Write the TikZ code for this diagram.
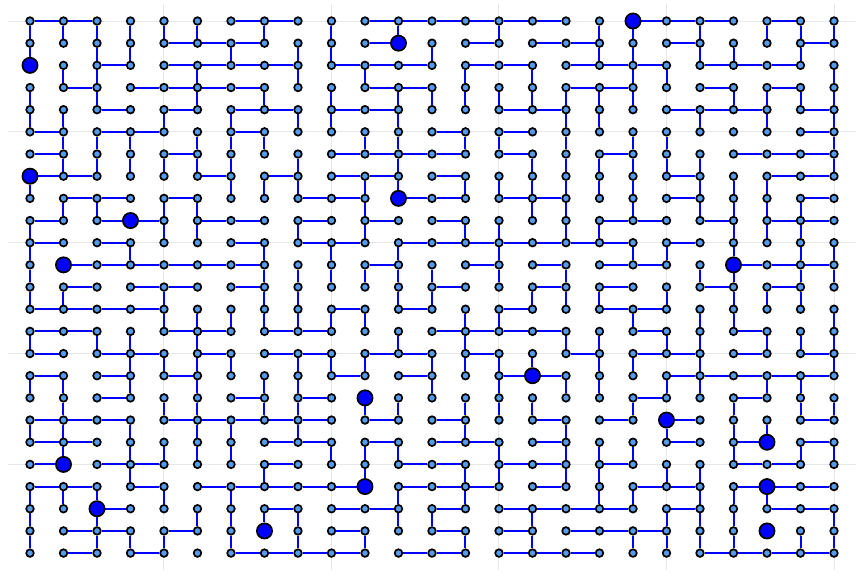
\documentclass[tikz,border=0pt]{standalone}
\usepackage{tikz}
\usepackage{xstring}
\usetikzlibrary{backgrounds}
\definecolor{dotblue}{RGB}{85,155,235}
\definecolor{gridgray}{RGB}{232,232,232}
\tikzset{
    dot/.style = {draw=black, fill=dotblue, circle, line width=0.85pt, inner sep=0pt, minimum size=3.8pt},
    hub/.style = {draw=black, fill=blue, circle, line width=0.85pt, inner sep=0pt, minimum size=7.6pt},
    link/.style = {draw=blue, line width=1pt},
    guide/.style = {draw=gridgray, line width=0.5pt},
}

\begin{document}
\begin{tikzpicture}[x=16.75pt, y=-11.085pt]
\useasboundingbox (-0.8955,-0.9472) rectangle (24.896,25.034);

% the bigger nodes
\foreach \r/\c in {0/18,1/11,2/0,7/0,8/11,9/3,11/1,11/21,16/15,17/10,18/19,19/22,20/1,21/10,21/22,22/2,23/7,23/22}
    {\expandafter\gdef\csname hub-\r-\c\endcsname{}}

% grid of nodes
\foreach \r in {0,...,24}
    \foreach \c in {0,...,24}
        {\ifcsname hub-\r-\c\endcsname
            \node[hub] (n-\r-\c) at (\c,\r) {};
        \else
            \node[dot] (n-\r-\c) at (\c,\r) {};
        \fi}

\begin{pgfonlayer}{background}
% guide lines
\foreach \c in {4,9,14,19,24}
    \draw[guide] (\c,-0.77) -- (\c,24.76);
\foreach \r in {0,5,10,15,20}
    \draw[guide] (-0.66,\r) -- (24.66,\r);

% horizontal links, one string per row
\foreach \hrow [count=\s] in {
    110000110011111100111010, 000011100010010110010001, 001011110111011011101110,
    010111100011000011001010, 001010110110001100011101, 101100100000101000000001,
    100010000111101001000111, 110001010110100000010011, 011010001101101100010001,
    101101101010100001101011, 101000101101111111010000, 011111100010010101100111,
    010110100000100101001010, 111100000101001001100000, 110011011000111100100100,
    101101011011010010110101, 101010000101001100011111, 001000101000000000100100,
    111011111010100101010001, 110000011010110100010101, 101100010001101101000110,
    110101111101110100110111, 001000010110101111010011, 011010000100101011100000,
    010100111101101110001111}
    {\pgfmathtruncatemacro\r{\s-1}
    \foreach \c [count=\k] in {0,...,23}
        {\StrChar{\hrow}{\k}[\bit]
        \ifnum\bit=1 \draw[link] (n-\r-\c) -- (n-\r-\k); \fi}}

% vertical links, one string per gap between rows
\foreach \vrow [count=\s] in {
    1111110101010010011010111, 1011001011001000011011010, 0110010010100101001100001,
    1010010101011111111001111, 1100101011010000110010101, 0111011100110110101100001,
    0111111010010001111110001, 1000001110110111111011100, 0110110000100001101011110,
    1000110010100110110001110, 1001000101010010001101011, 1000000111111010100011011,
    1100100110011001110101110, 0000111111100110001011001, 1011010000010100110110111,
    0001111011101111011010001, 1101010110001010110110110, 0100110110110111001001011,
    1101011010000100100101100, 0101111001110010111001011, 0001000100100110110110000,
    1110101000010100011011100, 1010011110011001000111001, 1011101010100101001111011}
    {\pgfmathtruncatemacro\r{\s-1}
    \foreach \c [count=\k] in {0,...,24}
        {\StrChar{\vrow}{\k}[\bit]
        \ifnum\bit=1 \draw[link] (n-\r-\c) -- (n-\s-\c); \fi}}
\end{pgfonlayer}
\end{tikzpicture}
\end{document}
